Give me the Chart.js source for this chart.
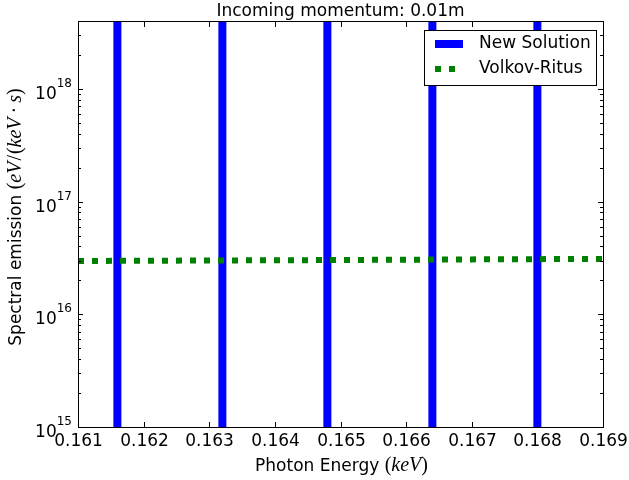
<!DOCTYPE html>
<html>
<head>
<meta charset="utf-8">
<script src="https://cdn.jsdelivr.net/npm/chart.js@4.4.1/dist/chart.umd.min.js"></script>
<style>
    html, body { margin: 0; padding: 0; background: #fff; }
</style>
</head>
<body>
<canvas id="spectrum-chart" width="629" height="480"></canvas>
<script>
// Spectrum data
const chartTitle = 'Incoming momentum: 0.01m';
const xTicks = [0.161, 0.162, 0.163, 0.164, 0.165, 0.166, 0.167, 0.168, 0.169];
const yMajorTicks = [1e15, 1e16, 1e17, 1e18];
const yMin = 1e15;
const yMax = 4e18;

// New Solution: narrow peaks that run off the top and bottom of the axes
const peakEnergies = [0.1616, 0.1632, 0.1648, 0.1664, 0.1680];
const peakFloor = 1e13;
const peakTop = 1e20;

// Volkov-Ritus: nearly flat background
const volkovEnergies = [0.161, 0.163, 0.165, 0.167, 0.169];
const volkovValues = [2.97e16, 3.0e16, 3.03e16, 3.07e16, 3.1e16];

const SANS = '"DejaVu Sans", sans-serif';
const SERIF = '"Liberation Serif", "DejaVu Serif", serif';

function peakPoints() {
    const pts = [];
    peakEnergies.forEach(e => {
        pts.push({ x: e, y: peakFloor });
        pts.push({ x: e, y: peakTop });
        pts.push({ x: e, y: null });
    });
    return pts;
}

function yTickValues() {
    const vals = [];
    yMajorTicks.forEach(d => {
        for (let k = 1; k <= 9; k++) {
            const v = k * d;
            if (v <= yMax) vals.push(v);
        }
    });
    return vals;
}

// draw a row of text runs with mixed fonts, centred on (x, y)
function drawRuns(ctx, runs, x, y) {
    let total = 0;
    runs.forEach(r => {
        ctx.font = r.f;
        r.w = ctx.measureText(r.t).width + (r.pad || 0) * 2;
        total += r.w;
    });
    let cx = x - total / 2;
    ctx.textAlign = 'left';
    runs.forEach(r => {
        ctx.font = r.f;
        ctx.fillText(r.t, cx + (r.pad || 0), y);
        cx += r.w;
    });
}

// parts: [text, italic, padding]
function mathRuns(parts, size) {
    return parts.map(p => ({ t: p[0], f: (p[1] ? 'italic ' : '') + size + 'px ' + SERIF, pad: p[2] || 0 }));
}

const axesDecor = {
    id: 'axesDecor',
    afterDraw(chart) {
        const ctx = chart.ctx;
        const area = chart.chartArea;
        const xs = chart.scales.x;
        const ys = chart.scales.y;

        ctx.save();
        ctx.strokeStyle = '#000';
        ctx.fillStyle = '#000';
        ctx.lineWidth = 1;

        const line = (x1, y1, x2, y2) => {
            ctx.beginPath();
            ctx.moveTo(x1, y1);
            ctx.lineTo(x2, y2);
            ctx.stroke();
        };

        // frame
        ctx.strokeRect(area.left + 0.5, area.top + 0.5, area.right - area.left, area.bottom - area.top);

        // x ticks, pointing inward top and bottom
        ctx.font = '17px ' + SANS;
        ctx.textAlign = 'center';
        ctx.textBaseline = 'alphabetic';
        xTicks.forEach(v => {
            const px = Math.round(xs.getPixelForValue(v)) + 0.5;
            line(px, area.bottom, px, area.bottom - 5);
            line(px, area.top + 1, px, area.top + 6);
            ctx.fillText(v.toFixed(3), px, area.bottom + 19);
        });

        // y ticks, major and minor, on both sides
        yTickValues().forEach(v => {
            const major = yMajorTicks.includes(v);
            const len = major ? 5 : 3;
            const py = Math.round(ys.getPixelForValue(v)) + 0.5;
            line(area.left, py, area.left + len, py);
            line(area.right, py, area.right - len, py);
        });

        // y tick labels as 10^n
        ctx.textAlign = 'left';
        yMajorTicks.forEach(v => {
            const py = ys.getPixelForValue(v);
            const exp = String(Math.round(Math.log10(v)));
            ctx.font = '12px ' + SANS;
            const wExp = ctx.measureText(exp).width;
            ctx.font = '17px ' + SANS;
            const wBase = ctx.measureText('10').width;
            const right = area.left - 6;
            ctx.fillText('10', right - wExp - wBase, py + 10);
            ctx.font = '12px ' + SANS;
            ctx.fillText(exp, right - wExp, py - 2);
        });

        // title
        const midX = (area.left + area.right) / 2;
        ctx.font = '17px ' + SANS;
        ctx.textAlign = 'center';
        ctx.fillText(chartTitle, midX, 16);

        // x axis label
        drawRuns(ctx, [{ t: 'Photon Energy ', f: '17px ' + SANS }]
            .concat(mathRuns([['(', false], ['keV', true], [')', false]], 20)), midX + 1, 471);

        // y axis label, rotated
        ctx.save();
        ctx.translate(21, 217);
        ctx.rotate(-Math.PI / 2);
        drawRuns(ctx, [{ t: 'Spectral emission ', f: '17px ' + SANS }]
            .concat(mathRuns([['(', false], ['eV', true], ['/', false, 1], ['(', false], ['keV', true],
                ['\u00B7', false, 4], ['s', true], [')', false]], 20)), 0, 0);
        ctx.restore();

        // legend box
        const lg = { left: 424, top: 30, right: 596, bottom: 85 };
        ctx.fillStyle = '#fff';
        ctx.fillRect(lg.left, lg.top, lg.right - lg.left, lg.bottom - lg.top);
        ctx.strokeStyle = '#000';
        ctx.lineWidth = 1;
        ctx.strokeRect(lg.left + 0.5, lg.top + 0.5, lg.right - lg.left, lg.bottom - lg.top);
        chart.data.datasets.forEach((ds, i) => {
            const ly = 44 + i * 25;
            ctx.strokeStyle = ds.borderColor;
            ctx.lineWidth = ds.borderWidth;
            ctx.lineCap = 'butt';
            ctx.setLineDash(ds.borderDash || []);
            line(lg.left + 11, ly, lg.left + 39, ly);
            ctx.setLineDash([]);
            ctx.fillStyle = '#000';
            ctx.font = '17px ' + SANS;
            ctx.textAlign = 'left';
            ctx.textBaseline = 'middle';
            ctx.fillText(ds.label, lg.left + 55, ly);
            ctx.textBaseline = 'alphabetic';
        });
        ctx.restore();
    }
};

const chart = new Chart(document.getElementById('spectrum-chart'), {
    type: 'line',
    data: {
        datasets: [{
            label: 'New Solution',
            data: peakPoints(),
            borderColor: '#0000ff',
            borderWidth: 8,
            pointRadius: 0,
            spanGaps: false,
            clip: 0,
            order: 1
        }, {
            label: 'Volkov-Ritus',
            data: volkovEnergies.map((e, i) => ({ x: e, y: volkovValues[i] })),
            borderColor: '#008000',
            borderWidth: 6,
            borderDash: [6, 8],
            borderCapStyle: 'butt',
            pointRadius: 0,
            clip: 0,
            order: 0
        }]
    },
    options: {
        responsive: false,
        animation: false,
        devicePixelRatio: 1,
        events: [],
        layout: {
            padding: { left: 78, top: 21, right: 26, bottom: 53 }
        },
        scales: {
            x: { type: 'linear', min: 0.161, max: 0.169, display: false },
            y: { type: 'logarithmic', min: yMin, max: yMax, display: false }
        },
        plugins: {
            legend: { display: false },
            tooltip: { enabled: false }
        }
    },
    plugins: [axesDecor]
});
</script>
</body>
</html>
